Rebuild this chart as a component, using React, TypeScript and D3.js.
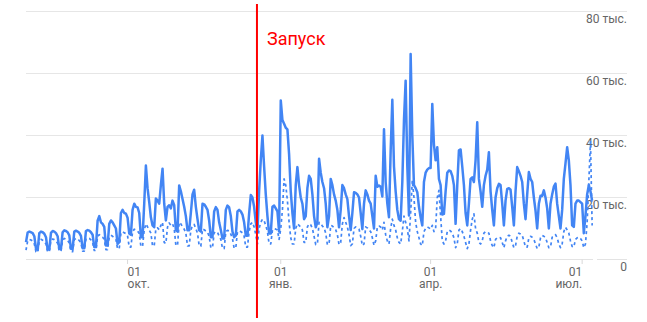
import React from "react";
import * as d3 from "d3";

const START_DATE = "2018-08-01";
const LAUNCH_DATE = "2018-12-17T17:00:00Z";
const LAUNCH_LABEL = "Запуск";

// Daily values, thousands — solid series
const totalValues: number[] = [
  5.6, 8.7, 9.0, 8.8, 8.5, 7.5, 3.5,
  3.0, 8.5, 9.0, 8.8, 8.3, 7.2, 3.2,
  3.3, 8.6, 9.2, 9.0, 8.5, 7.5, 3.5,
  3.5, 8.8, 9.4, 9.2, 8.8, 7.8, 3.5,
  3.4, 9.0, 9.3, 9.0, 8.6, 7.6, 3.6,
  3.6, 9.2, 9.5, 9.3, 8.8, 8.0, 4.0,
  4.0, 12.5, 14.0, 12.0, 11.5, 10.5, 4.5,
  4.5, 11.5, 12.6, 12.0, 11.0, 10.0, 5.0,
  5.6, 15.0, 16.0, 15.0, 14.8, 13.5, 8.4,
  8.0, 16.0, 18.0, 17.0, 16.8, 15.0, 7.2,
  7.2, 18.0, 30.3, 23.0, 18.5, 13.6, 11.0,
  10.4, 19.7, 19.0, 18.0, 24.0, 29.3, 18.0,
  12.6, 17.0, 17.5, 16.5, 19.0, 17.5, 9.4,
  9.0, 23.9, 22.0, 19.5, 17.0, 14.0, 9.4,
  9.4, 15.0, 21.0, 22.5, 17.0, 13.0, 9.4,
  9.0, 18.0, 17.8, 17.0, 16.0, 12.6, 7.2,
  7.2, 15.5, 16.9, 16.0, 12.0, 9.5, 6.8,
  6.8, 16.0, 17.4, 16.8, 14.0, 9.0, 7.2,
  7.7, 15.5, 16.0, 15.5, 14.5, 12.0, 7.7,
  7.7, 14.8, 20.8, 20.0, 17.0, 12.0, 9.0,
  22.0, 32.0, 40.0, 30.0, 21.0, 14.0, 8.4,
  8.4, 17.0, 17.4, 16.5, 15.5, 9.0, 51.3,
  45.0, 43.8, 42.5, 42.0, 34.0, 22.0, 15.0,
  10.0, 24.0, 29.8, 24.0, 20.0, 18.0, 13.0,
  14.0, 23.0, 27.0, 26.0, 21.0, 14.0, 10.4,
  12.0, 32.5, 28.0, 25.0, 23.0, 18.0, 10.4,
  14.0, 26.0, 24.0, 21.0, 19.0, 16.0, 10.4,
  16.0, 24.0, 23.0, 21.0, 19.5, 14.0, 9.5,
  15.0, 21.7, 21.5, 21.0, 20.0, 15.0, 9.8,
  18.0, 22.3, 21.0, 19.0, 18.0, 14.0, 10.0,
  27.0, 23.5, 23.9, 23.5, 20.3, 42.0, 25.0,
  18.0, 13.6, 35.0, 51.5, 30.0, 22.0, 16.0,
  13.0, 12.5, 25.0, 45.0, 57.7, 30.0, 14.2,
  66.3, 40.0, 24.0, 23.0, 21.7, 17.0, 13.6,
  11.0, 25.0, 28.0, 29.0, 29.5, 29.5, 50.2,
  37.0, 32.0, 36.2, 26.0, 24.0, 14.5, 14.7,
  22.0, 28.0, 28.7, 28.5, 27.0, 24.0, 11.5,
  24.0, 35.2, 35.5, 30.0, 24.0, 15.0, 11.0,
  18.0, 26.0, 26.5, 25.0, 32.0, 44.3, 26.0,
  22.0, 17.0, 24.0, 27.0, 29.0, 34.6, 22.0,
  16.0, 11.0, 20.0, 23.0, 24.4, 24.0, 18.0,
  11.0, 19.0, 22.8, 23.0, 22.5, 17.0, 11.0,
  22.0, 29.8, 28.5, 27.0, 25.0, 18.0, 13.0,
  21.0, 28.2, 26.0, 25.0, 20.0, 15.8, 10.0,
  18.0, 20.6, 20.5, 22.3, 20.0, 16.5, 10.0,
  18.0, 21.0, 23.5, 24.5, 18.0, 14.0, 10.0,
  16.0, 26.0, 31.0, 36.2, 32.0, 24.0, 11.0,
  10.5, 18.0, 19.0, 19.0, 18.5, 18.0, 8.5,
  14.0, 21.0, 24.0, 22.0, 19.0,
];

// Daily values, thousands — dotted series
const secondValues: number[] = [
  3.0, 6.0, 6.5, 6.3, 6.0, 5.0, 2.5,
  2.3, 6.0, 6.5, 6.2, 5.8, 5.0, 2.4,
  2.5, 6.2, 6.6, 6.4, 6.0, 5.2, 2.6,
  2.6, 6.3, 6.8, 6.5, 6.2, 5.3, 2.6,
  2.5, 6.4, 6.8, 6.6, 6.1, 5.3, 2.7,
  2.7, 6.6, 7.0, 6.8, 6.3, 5.5, 2.9,
  2.9, 7.5, 8.0, 7.5, 7.2, 6.5, 3.2,
  3.2, 7.2, 7.8, 7.5, 7.0, 6.5, 3.4,
  3.6, 8.5, 9.0, 8.6, 8.4, 7.6, 4.0,
  4.0, 9.0, 9.8, 9.5, 9.2, 8.4, 4.2,
  4.2, 9.5, 11.5, 10.5, 9.5, 8.5, 4.4,
  4.4, 10.0, 10.2, 9.6, 11.0, 12.0, 5.5,
  5.2, 10.5, 11.8, 11.0, 11.5, 10.0, 4.6,
  4.5, 12.0, 11.5, 10.5, 9.8, 8.5, 4.4,
  4.4, 9.5, 11.0, 11.3, 10.0, 8.5, 4.5,
  4.3, 9.8, 9.6, 9.2, 8.8, 7.5, 3.8,
  3.8, 8.6, 9.0, 8.8, 7.5, 6.5, 3.6,
  3.5, 9.0, 9.4, 9.2, 8.2, 6.8, 3.6,
  3.8, 9.0, 9.2, 9.0, 8.6, 7.5, 4.0,
  4.0, 9.0, 11.5, 12.0, 10.5, 8.0, 5.0,
  10.0, 12.0, 13.0, 12.5, 11.0, 9.0, 5.0,
  5.0, 9.5, 10.0, 9.8, 9.5, 6.5, 10.0,
  16.0, 26.0, 24.0, 19.0, 12.0, 7.0, 5.0,
  5.0, 10.0, 11.5, 11.0, 10.5, 9.5, 5.5,
  5.5, 10.5, 11.5, 11.2, 10.0, 7.5, 4.8,
  5.0, 12.0, 11.5, 10.8, 10.2, 8.5, 4.8,
  5.0, 11.0, 10.8, 10.2, 9.6, 8.0, 4.8,
  5.5, 11.5, 13.5, 12.0, 10.5, 8.0, 4.5,
  5.0, 10.0, 10.5, 10.2, 9.8, 7.5, 4.5,
  5.0, 10.5, 10.2, 9.5, 9.0, 7.0, 4.6,
  6.0, 10.5, 10.8, 10.5, 9.5, 12.0, 8.0,
  6.0, 5.0, 10.0, 13.0, 11.0, 9.5, 7.0,
  5.5, 5.0, 9.0, 14.0, 12.0, 10.0, 6.0,
  15.0, 25.5, 20.0, 12.0, 9.0, 7.0, 5.0,
  4.5, 9.0, 10.0, 10.5, 10.2, 9.8, 11.0,
  9.0, 10.0, 20.0, 22.3, 14.0, 6.0, 5.0,
  6.0, 9.0, 9.5, 9.2, 8.5, 7.0, 3.8,
  5.0, 9.5, 10.0, 9.0, 7.5, 5.5, 3.5,
  5.0, 9.5, 13.0, 14.7, 10.0, 8.5, 5.5,
  5.0, 6.0, 8.5, 9.0, 8.8, 8.5, 6.0,
  4.5, 3.8, 6.5, 7.0, 7.2, 7.0, 5.5,
  3.8, 6.0, 7.5, 7.8, 7.5, 5.5, 3.8,
  4.5, 7.5, 8.5, 8.2, 7.8, 6.0, 4.0,
  4.0, 7.0, 7.5, 7.2, 6.5, 5.0, 3.5,
  4.0, 7.0, 7.8, 7.5, 7.0, 5.5, 3.8,
  4.0, 7.2, 7.5, 8.0, 7.0, 5.0, 3.8,
  5.0, 9.0, 10.4, 9.5, 8.5, 6.0, 4.2,
  4.0, 6.5, 7.0, 7.2, 6.8, 6.0, 3.8,
  5.0, 12.0, 25.0, 38.0, 11.0,
];

const xTickDates = ["2018-10-01", "2019-01-01", "2019-04-01", "2019-07-01"];
const xTickDays = ["01", "01", "01", "01"];
const xTickMonths = ["окт.", "янв.", "апр.", "июл."];
const yTicks = [0, 20, 40, 60, 80];
const yTickLabels = ["0", "20 тыс.", "40 тыс.", "60 тыс.", "80 тыс."];

const W = 647;
const H = 322;
const FONT = "Roboto, 'Liberation Sans', Arial, sans-serif";
const BLUE = "#4285f4";

export default function App() {
  const start = new Date(START_DATE + "T00:00:00Z");
  const nDays = 341;
  const x = d3
    .scaleUtc()
    .domain([start, d3.utcDay.offset(start, nDays)])
    .range([26, 593.8]);
  const y = d3.scaleLinear().domain([0, 80]).range([259.5, 11.5]);

  const dates = totalValues.map((_, i) => d3.utcDay.offset(start, i));
  const line = d3
    .line<number>()
    .x((_, i) => x(dates[i]))
    .y((d) => y(d));

  const plotLeft = 26;
  const plotRight = 593;
  const labelRight = 627;
  const launchX = x(new Date(LAUNCH_DATE));

  return (
    <svg
      width={W}
      height={H}
      style={{ position: "absolute", left: 0, top: 0, background: "#fff" }}
      fontFamily={FONT}
    >
      {yTicks.map((t, i) => (
        <g key={t}>
          {t === 0 ? (
            <>
              <line x1={plotLeft} x2={plotRight} y1={y(t)} y2={y(t)} stroke="#e3e3e3" />
              <line x1={597} x2={labelRight} y1={y(t)} y2={y(t)} stroke="#e3e3e3" />
            </>
          ) : (
            <line x1={plotLeft} x2={labelRight} y1={y(t)} y2={y(t)} stroke="#e6e6e6" />
          )}
          <text
            x={labelRight}
            y={y(t) + 11.5}
            textAnchor="end"
            fontSize={12}
            fill="#666"
          >
            {yTickLabels[i]}
          </text>
        </g>
      ))}

      {xTickDates.map((d, i) => {
        const tx = x(new Date(d + "T00:00:00Z"));
        const anchor = i === 0 ? "start" : i === xTickDates.length - 1 ? "end" : "middle";
        return (
          <g key={d}>
            <line x1={tx} x2={tx} y1={259.5} y2={264} stroke="#d9d9d9" />
            <text x={tx} y={275.5} textAnchor={anchor} fontSize={12} fill="#666">
              {xTickDays[i]}
            </text>
            <text x={tx} y={288} textAnchor={anchor} fontSize={12} fill="#666">
              {xTickMonths[i]}
            </text>
          </g>
        );
      })}

      <path
        d={line(secondValues) || ""}
        fill="none"
        stroke={BLUE}
        strokeWidth={1.7}
        strokeDasharray="3,3"
        strokeLinejoin="round"
      />
      <path
        d={line(totalValues) || ""}
        fill="none"
        stroke={BLUE}
        strokeWidth={2.5}
        strokeLinejoin="round"
      />

      <line x1={launchX} x2={launchX} y1={4} y2={318} stroke="#ff0000" strokeWidth={2} />
      <text x={launchX + 10} y={45} fontSize={18} fill="#ff0000">
        {LAUNCH_LABEL}
      </text>
    </svg>
  );
}
